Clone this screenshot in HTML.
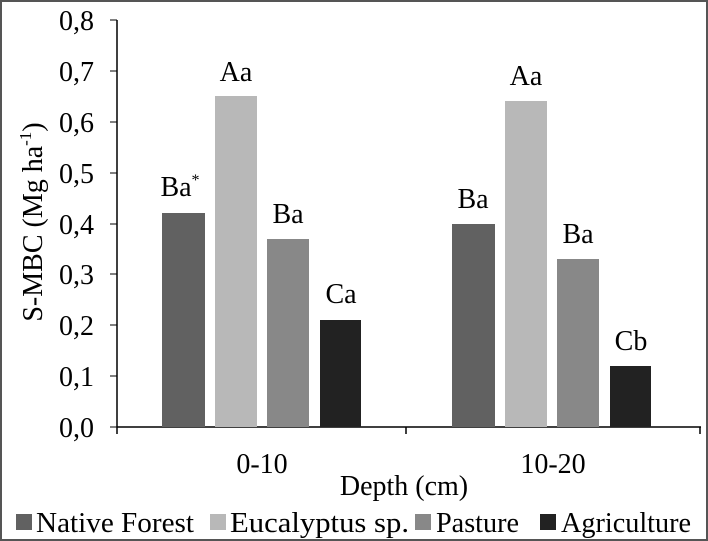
<!DOCTYPE html><html><head><style>body{margin:0;background:#fff}svg{display:block}text{font-family:"Liberation Serif",serif;fill:#000}</style></head><body>
<svg width="708" height="541" viewBox="0 0 708 541">
<rect x="1" y="1" width="706" height="539" fill="#fff" stroke="#555" stroke-width="2"/>
<g font-size="28" text-anchor="end">
<text x="94" y="437">0,0</text><text x="94" y="386">0,1</text><text x="94" y="335">0,2</text><text x="94" y="284">0,3</text><text x="94" y="234">0,4</text><text x="94" y="183">0,5</text><text x="94" y="132">0,6</text><text x="94" y="81">0,7</text><text x="94" y="30">0,8</text>
</g>
<g stroke="#000" stroke-width="1.5">
<line x1="117" y1="20" x2="117" y2="427"/>
<line x1="117" y1="427" x2="701" y2="427"/>
<line x1="117" y1="427" x2="117" y2="434"/><line x1="406" y1="427" x2="406" y2="434"/><line x1="700" y1="427" x2="700" y2="434"/>
<g stroke-width="1"><line x1="110" y1="427" x2="117" y2="427"/><line x1="110" y1="376" x2="117" y2="376"/><line x1="110" y1="325" x2="117" y2="325"/><line x1="110" y1="274" x2="117" y2="274"/><line x1="110" y1="224" x2="117" y2="224"/><line x1="110" y1="173" x2="117" y2="173"/><line x1="110" y1="122" x2="117" y2="122"/><line x1="110" y1="71" x2="117" y2="71"/><line x1="110" y1="20" x2="117" y2="20"/></g>
</g>
<rect x="162" y="213" width="43" height="214" fill="#616161"/>
<rect x="215" y="96" width="42" height="331" fill="#b8b8b8"/>
<rect x="267" y="239" width="42" height="188" fill="#888"/>
<rect x="320" y="320" width="41" height="107" fill="#222"/>
<rect x="452" y="224" width="43" height="203" fill="#616161"/>
<rect x="505" y="101" width="42" height="326" fill="#b8b8b8"/>
<rect x="557" y="259" width="42" height="168" fill="#888"/>
<rect x="610" y="366" width="41" height="61" fill="#222"/>
<g font-size="28" text-anchor="middle">
<text x="180" y="196">Ba<tspan font-size="16" dy="-11">*</tspan></text>
<text x="236" y="81">Aa</text><text x="288" y="223">Ba</text><text x="341" y="303">Ca</text>
<text x="473" y="208">Ba</text><text x="526" y="85">Aa</text><text x="578" y="243">Ba</text><text x="631" y="350">Cb</text>
<text x="262" y="473">0-10</text><text x="553" y="473">10-20</text>
<text x="404" y="495">Depth (cm)</text>
</g>
<text transform="translate(42,222) rotate(-90)" font-size="28" text-anchor="middle">S-MBC (Mg ha<tspan font-size="17" dy="-11">-1</tspan><tspan dy="11">)</tspan></text>
<rect x="16" y="514" width="16" height="16" fill="#616161"/>
<rect x="210" y="514" width="16" height="16" fill="#b8b8b8"/>
<rect x="415" y="514" width="16" height="16" fill="#888"/>
<rect x="540" y="514" width="16" height="16" fill="#222"/>
<g font-size="28"><text x="36" y="532" textLength="158" lengthAdjust="spacingAndGlyphs">Native Forest</text><text x="230" y="532" textLength="179" lengthAdjust="spacingAndGlyphs">Eucalyptus sp.</text><text x="436" y="532" textLength="83" lengthAdjust="spacingAndGlyphs">Pasture</text><text x="561" y="532" textLength="130" lengthAdjust="spacingAndGlyphs">Agriculture</text></g>
</svg></body></html>
